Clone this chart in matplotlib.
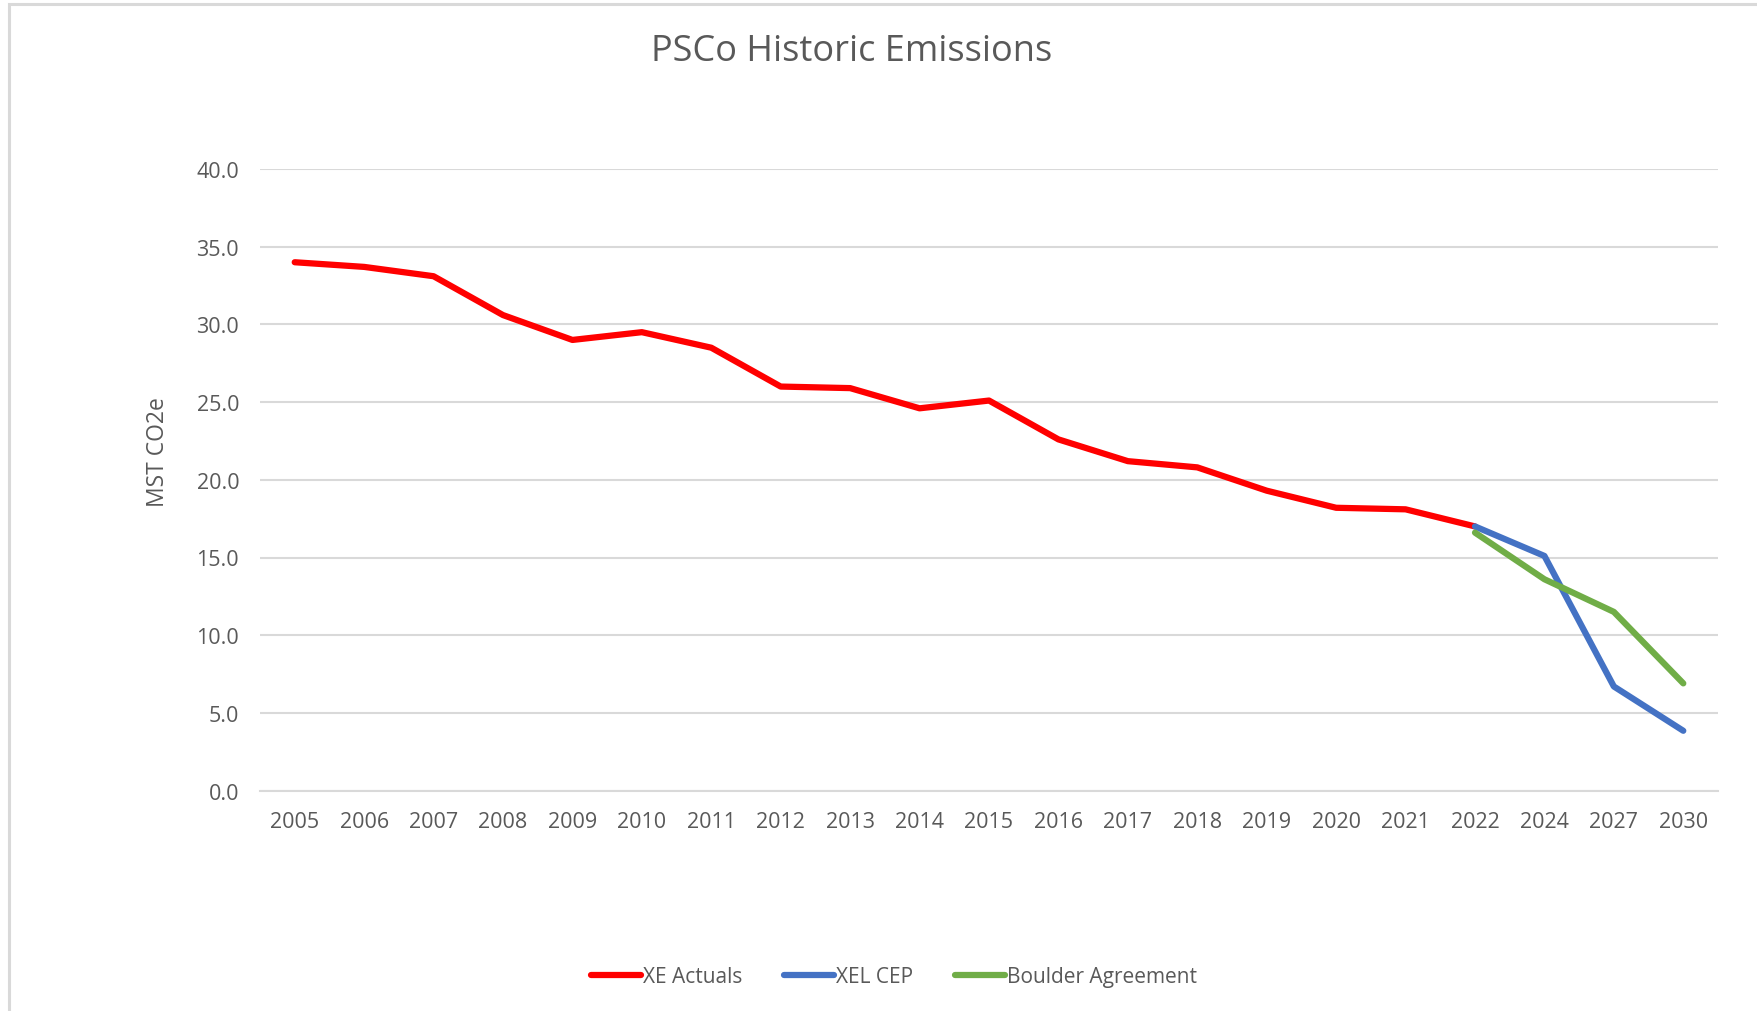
import numpy as np
import matplotlib.pyplot as plt
from matplotlib.patches import Rectangle

years = ["2005", "2006", "2007", "2008", "2009", "2010", "2011", "2012", "2013",
         "2014", "2015", "2016", "2017", "2018", "2019", "2020", "2021", "2022",
         "2024", "2027", "2030"]
nan = np.nan
xe_actuals = [34.0, 33.7, 33.1, 30.6, 29.0, 29.5, 28.5, 26.0, 25.9, 24.6, 25.1,
              22.6, 21.2, 20.8, 19.3, 18.2, 18.1, 17.0, nan, nan, nan]
xel_cep = [nan] * 17 + [17.0, 15.1, 6.7, 3.85]
boulder = [nan] * 17 + [16.6, 13.6, 11.5, 6.9]

plt.rcParams['font.family'] = ['Open Sans', 'DejaVu Sans']
txt = '#595959'
grid = '#d9d9d9'

fig = plt.figure(figsize=(17.58, 10.12), dpi=100)
ax = fig.add_axes([260 / 1758, 1 - 791.6 / 1012, (1718 - 260) / 1758, (791.6 - 170) / 1012])

x = np.arange(len(years))
ax.plot(x, xe_actuals, color='#ff0000', lw=4.5, solid_capstyle='round', label='XE Actuals')
ax.plot(x, xel_cep, color='#4472c4', lw=4.5, solid_capstyle='round', label='XEL CEP')
ax.plot(x, boulder, color='#70ad47', lw=4.5, solid_capstyle='round', label='Boulder Agreement')

ax.set_xlim(-0.5, len(years) - 0.5)
ax.set_ylim(0, 40)
ax.set_yticks(np.arange(0, 41, 5))
ax.set_yticklabels([f"{v:.1f}" for v in np.arange(0, 41, 5)])
ax.set_xticks(x)
ax.set_xticklabels(years)
ax.grid(axis='y', color=grid, lw=1.5)
ax.set_axisbelow(True)
for s in ['top', 'right', 'left']:
    ax.spines[s].set_visible(False)
ax.spines['bottom'].set_color(grid)
ax.spines['bottom'].set_linewidth(1.5)
ax.tick_params(axis='both', length=0, labelsize=15.5, colors=txt)
ax.tick_params(axis='y', pad=15)
ax.tick_params(axis='x', pad=15)

ax.set_ylabel('MST CO2e', fontsize=16.5, color=txt)
ax.yaxis.set_label_coords(-0.062, 0.546)

fig.text(852 / 1758, 1 - 52 / 1012, 'PSCo Historic Emissions', ha='center', va='center',
         fontsize=26, color=txt)

leg = fig.legend(loc='center', bbox_to_anchor=(894 / 1758, 1 - 978 / 1012), ncol=3,
                 frameon=False, fontsize=15, handlelength=2.4, handletextpad=0.1,
                 columnspacing=2.0)
for t in leg.get_texts():
    t.set_color(txt)

# outer chart border (only top and left visible in the reference)
fig.patches.append(Rectangle((9 / 1758, -0.1), 1.2, 1.1 - 4.5 / 1012, transform=fig.transFigure,
                             fill=False, edgecolor=grid, lw=2.2))

fig.savefig('out.png', dpi=100)
